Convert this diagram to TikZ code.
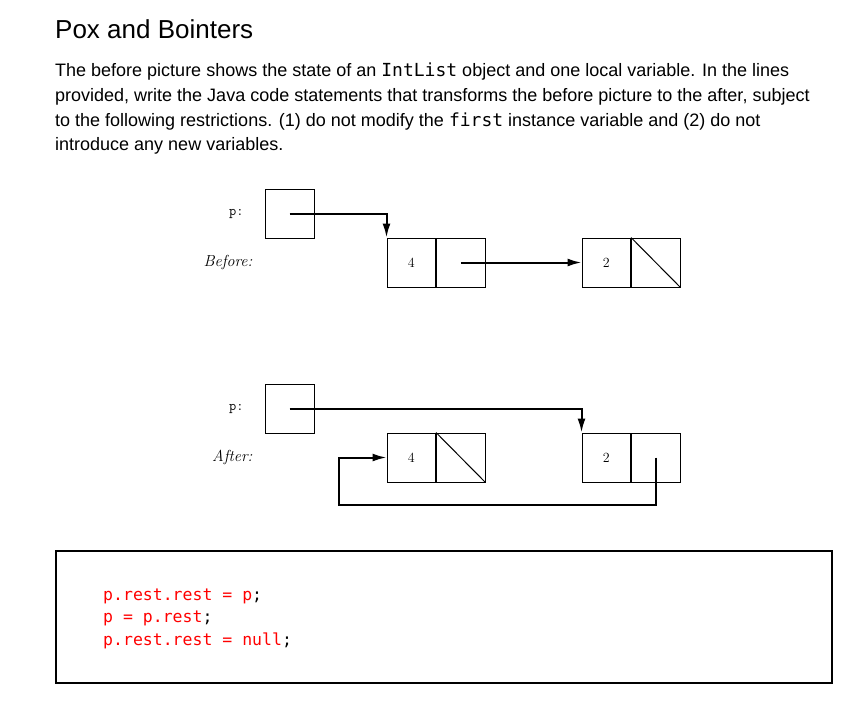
\documentclass[tikz,border=0pt]{standalone}
\usepackage{fontspec}
\usepackage{tikz}
\usepackage{xcolor}
\usetikzlibrary{arrows.meta,positioning}
\setmainfont{Latin Modern Roman}
\newfontfamily\sheetfont{Liberation Sans}
\newfontfamily\codefont{DejaVu Sans Mono}
\definecolor{codered}{RGB}{255,0,0}

\tikzset{
  cell/.style={draw, line width=1pt, minimum width=48.5pt, minimum height=49pt, inner sep=0pt, font=\fontsize{14}{14}\selectfont},
  ptrbox/.style={draw, line width=1pt, minimum size=49pt, inner sep=0pt},
  ptr/.style={line width=2pt, -{Latex[length=14pt,width=8pt]}},
  textline/.style={anchor=base west, inner sep=0pt, font=\sheetfont\fontsize{18}{18}\selectfont},
  codeline/.style={anchor=base west, inner sep=0pt, text=codered, font=\codefont\fontsize{16.5}{16.5}\selectfont}
}

\begin{document}
\begin{tikzpicture}[x=1pt, y=-1pt]
    \useasboundingbox[fill=white] (0,0) rectangle (861,709);

    % Texto
    \node[anchor=base west, inner sep=0pt, font=\sheetfont\fontsize{26}{26}\selectfont] (title) at (55,39) {Pox and Bointers};
    \node[textline] (l1) at (55,77) {The before picture shows the state of an {\codefont IntList} object and one local variable. In the lines};
    \node[textline] (l2) at (55,101) {provided, write the Java code statements that transforms the before picture to the after, subject};
    \node[textline] (l3) at (55,126) {to the following restrictions. (1) do not modify the {\codefont first} instance variable and (2) do not};
    \node[textline] (l4) at (55,150) {introduce any new variables.};

    % Antes
    \node[anchor=east, font=\ttfamily\fontsize{14}{14}\selectfont] (pBlabel) at (247,213.5) {p:};
    \node[anchor=east, font=\itshape\fontsize{16}{16}\selectfont] (before) at (256,262.5) {Before:};
    \node[ptrbox] (pB) at (289.5,213.5) {};
    \node[cell] (b4val) at (411.25,262.5) {4};
    \node[cell, right=0pt of b4val] (b4next) {};
    \node[cell] (b2val) at (606.25,262.5) {2};
    \node[cell, right=0pt of b2val] (b2next) {};

    \draw[ptr] (pB.center) -| (b4val.north west);
    \draw[ptr] (b4next.center) -- (b2val.west);
    \draw[line width=1pt] (b2next.north west) -- (b2next.south east);

    % Despues
    \node[anchor=east, font=\ttfamily\fontsize{14}{14}\selectfont] (pAlabel) at (247,408.5) {p:};
    \node[anchor=east, font=\itshape\fontsize{16}{16}\selectfont] (after) at (256,457.5) {After:};
    \node[ptrbox] (pA) at (289.5,408.5) {};
    \node[cell] (a4val) at (411.25,457.5) {4};
    \node[cell, right=0pt of a4val] (a4next) {};
    \node[cell] (a2val) at (606.25,457.5) {2};
    \node[cell, right=0pt of a2val] (a2next) {};
    \coordinate (loop) at (339,505);

    \draw[ptr] (pA.center) -| (a2val.north west);
    \draw[line width=1pt] (a4next.north west) -- (a4next.south east);
    \draw[ptr] (a2next.center) |- (loop) |- (a4val.west);

    % Codigo
    \node[draw, line width=2pt, anchor=north west, minimum width=776pt, minimum height=132pt, inner sep=0pt] (answer) at (55,550) {};
    \node[codeline] (c1) at (103,600) {p.rest.rest = p\textcolor{black}{;}};
    \node[codeline] (c2) at (103,622.5) {p = p.rest\textcolor{black}{;}};
    \node[codeline] (c3) at (103,645) {p.rest.rest = null\textcolor{black}{;}};
\end{tikzpicture}
\end{document}
